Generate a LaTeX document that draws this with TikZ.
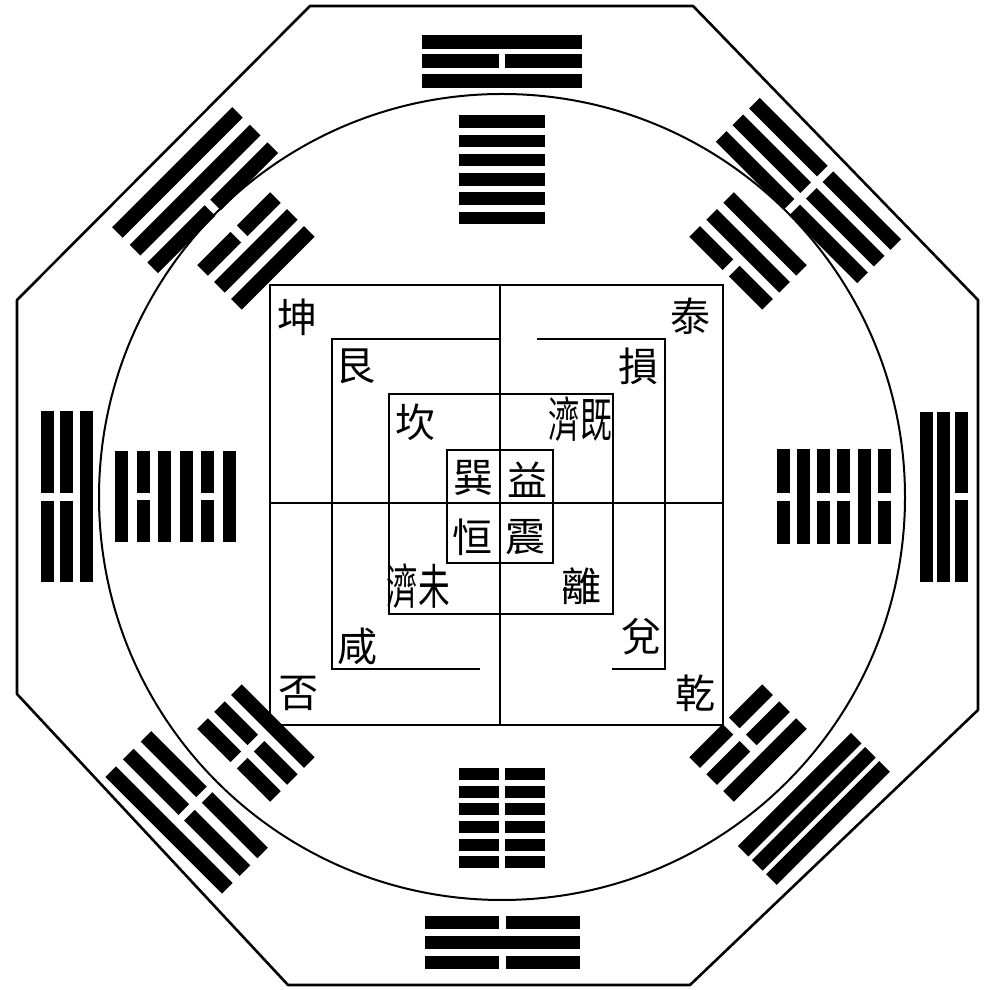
\documentclass[tikz,border=0pt]{standalone}
\usepackage{fontspec}
\usepackage{graphicx}
\newfontfamily\cjk{Noto Sans CJK TC}
\tikzset{
  edge/.style={line width=2.6pt, line join=round},
  ring/.style={line width=2pt},
  grid/.style={line width=1.3pt},
  lab/.style={font=\cjk\fontsize{40}{40}\selectfont, inner sep=0pt},
  labw/.style={font=\cjk\fontsize{48}{48}\selectfont, inner sep=0pt},
}
% solid line: radius, length, thickness
\newcommand\yaoS[3]{\fill ({-(#2)/2},{(#1)-(#3)/2}) rectangle ({(#2)/2},{(#1)+(#3)/2});}
% broken line: radius, length, thickness, gap
\newcommand\yaoB[4]{\fill ({-(#2)/2},{(#1)-(#3)/2}) rectangle ({-(#4)/2},{(#1)+(#3)/2});\fill ({(#4)/2},{(#1)-(#3)/2}) rectangle ({(#2)/2},{(#1)+(#3)/2});}
% group: angle, r0, dr, length, thickness, gap, list (inner -> outer)
\newcommand\yaogroup[7]{%
  \pgfmathsetmacro\yang{#1-90}%
  \begin{scope}[shift={(502,493)},rotate=\yang]
    \foreach \yv [count=\yi from 0] in {#7} {
      \pgfmathsetmacro\yr{#2+\yi*#3}
      \ifnum\yv=1 \yaoS{\yr}{#4}{#5}\else\yaoB{\yr}{#4}{#5}{#6}\fi
    }
  \end{scope}}
\begin{document}
\begin{tikzpicture}[x=1pt,y=1pt]
\useasboundingbox (0,0) rectangle (985,990);
\fill[white] (0,0) rectangle (985,990);
% octagon
\draw[edge] (310,984) -- (693,984) -- (978,690) -- (978,280) -- (690,5) -- (288,5) -- (17,296) -- (17,690) -- cycle;
% circle
\draw[ring] (502,493) circle[radius=403pt];
% squares
\draw[grid] (270,265) rectangle (723,705);
\draw[grid] (500,651) -- (332,651) -- (332,321) -- (480,321);
\draw[grid] (537,651) -- (665,651) -- (665,321) -- (612,321);
\draw[grid] (389,376) rectangle (613,596);
\draw[grid] (447,427) rectangle (553,540);
\draw[grid] (500,265) -- (500,705);
\draw[grid] (270,487) -- (723,487);
% outer trigrams
\yaogroup{90}{416}{19.5}{160}{14}{6}{1,0,1}
\yaogroup{45}{410}{23.5}{200}{15}{8}{0,0,0}
\yaogroup{0}{424}{17.7}{170}{13}{7}{1,1,0}
\yaogroup{-45}{421}{20}{160}{15}{8}{1,1,1}
\yaogroup{-90}{426}{20}{155}{13}{7}{0,1,0}
\yaogroup{-135}{421}{25}{165}{15}{8}{0,0,1}
\yaogroup{180}{416}{19.5}{171}{13}{8}{1,0,0}
\yaogroup{135}{409}{25}{170}{15}{8}{0,1,1}
% inner figures
\yaogroup{90}{279}{19.3}{86}{12.5}{6}{1,1,1,1,1,1}
\yaogroup{45}{324}{24}{103}{15}{9}{0,1,1}
\yaogroup{0}{281}{20.3}{95}{13}{8}{0,1,0,0,1,0}
\yaogroup{-45}{324}{24}{103}{15}{9}{0,0,1}
\yaogroup{-90}{277}{17.7}{86}{12}{6}{0,0,0,0,0,0}
\yaogroup{-135}{324}{24}{103}{15}{9}{1,0,0}
\yaogroup{180}{273}{21.5}{91}{13}{7}{1,0,1,1,0,1}
\yaogroup{135}{324}{24}{103}{15}{9}{1,1,0}
% labels
\node[lab] (kun) at (297,673) {坤};
\node[lab] (tai) at (690,674) {泰};
\node[lab] (pi) at (298,297) {否};
\node[lab] (qian) at (695,297) {乾};
\node[lab] (gen) at (355,624) {艮};
\node[lab] (sun) at (638,624) {損};
\node[lab] (xian) at (357,344) {咸};
\node[lab] (dui) at (641,353) {兌};
\node[lab] (kan) at (415,568) {坎};
\node[labw] (jiji) at (580,571) {\scalebox{0.66}[1]{濟既}};
\node[labw] (weiji) at (418,404) {\scalebox{0.66}[1]{濟未}};
\node[lab] (li) at (581,404) {離};
\node[lab] (xun) at (473,512) {巽};
\node[lab] (yi) at (527,510) {益};
\node[lab] (heng) at (472,453) {恒};
\node[lab] (zhen) at (525,453) {震};
\end{tikzpicture}
\end{document}
